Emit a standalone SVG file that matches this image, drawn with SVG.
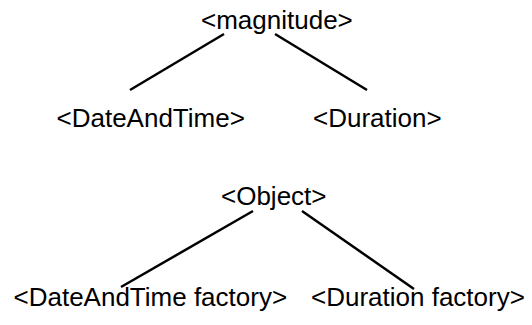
<svg xmlns="http://www.w3.org/2000/svg" width="532" height="325" viewBox="0 0 532 325">
<style>
.t{font-family:"Liberation Sans",Arial,sans-serif;font-size:26px;fill:#000}
.c line{stroke:#000;stroke-width:2.5;stroke-linecap:butt}
</style>
<rect width="532" height="325" fill="#fff"/>
<g class="c" id="connectors">
<line x1="224" y1="34" x2="130" y2="90"/>
<line x1="275" y1="34" x2="367" y2="90"/>
<line x1="253" y1="211" x2="121" y2="287"/>
<line x1="302" y1="211" x2="414" y2="289"/>
</g>
<g id="magnitude"><text class="t" x="201" y="28.5">&lt;magnitude&gt;</text></g>
<g id="dateandtime"><text class="t" x="56.5" y="127">&lt;DateAndTime&gt;</text></g>
<g id="duration"><text class="t" x="313" y="127">&lt;Duration&gt;</text></g>
<g id="object"><text class="t" x="221" y="204.5">&lt;Object&gt;</text></g>
<g id="dateandtime-factory"><text class="t" x="13.5" y="306">&lt;DateAndTime factory&gt;</text></g>
<g id="duration-factory"><text class="t" x="311" y="306">&lt;Duration factory&gt;</text></g>
</svg>
